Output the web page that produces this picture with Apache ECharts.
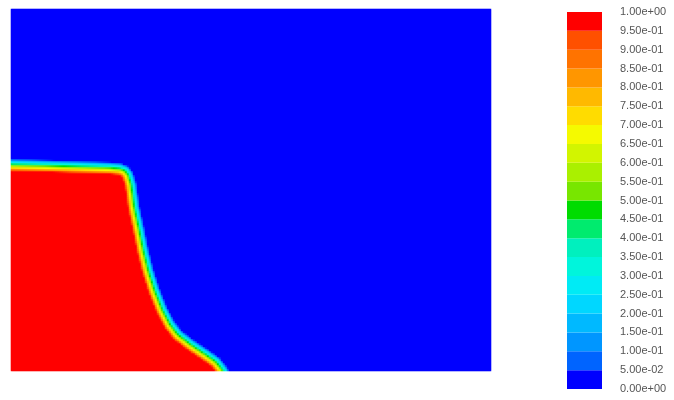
<!DOCTYPE html>
<html>
<head>
<meta charset="utf-8">
<script src="https://cdn.jsdelivr.net/npm/echarts@6/dist/echarts.min.js"></script>
<style>
  html, body { margin: 0; padding: 0; background: #fff; }
  #chart { width: 674px; height: 400px; }
</style>
</head>
<body>
<div id="chart"></div>
<script>
// 0.5 contour of the volume fraction (domain 4.8 x 3.6)
const interfaceX = [0, 0.39, 0.99, 1.09, 1.14, 1.17, 1.20, 1.23, 1.28, 1.32, 1.37, 1.43, 1.51, 1.59, 1.67, 1.80, 1.95, 2.05, 2.12];
const interfaceY = [2.05, 2.04, 2.02, 2.01, 1.99, 1.95, 1.85, 1.63, 1.40, 1.20, 1.00, 0.81, 0.61, 0.46, 0.36, 0.26, 0.16, 0.09, 0];
const domainW = 4.8;
const domainH = 3.6;
const bandHalf = 0.06; // half thickness of the smeared interface
const nx = 240;
const ny = 181;

// colour bar levels, bottom to top
const levels = [0.00, 0.05, 0.10, 0.15, 0.20, 0.25, 0.30, 0.35, 0.40, 0.45, 0.50,
  0.55, 0.60, 0.65, 0.70, 0.75, 0.80, 0.85, 0.90, 0.95, 1.00];
const bandColors = ['#0000ff', '#0064ff', '#0096ff', '#00b9ff', '#00d7ff', '#00ebf5', '#00f5dc',
  '#00f0be', '#00eb6e', '#00dc00', '#78e600', '#aaf000', '#d2f500', '#f5fa00', '#ffdc00',
  '#ffb900', '#ff9600', '#ff7300', '#ff5000', '#ff0000'];

function segDist(px, py, ax, ay, bx, by) {
  const dx = bx - ax, dy = by - ay;
  let t = ((px - ax) * dx + (py - ay) * dy) / (dx * dx + dy * dy);
  t = Math.max(0, Math.min(1, t));
  const qx = ax + t * dx - px, qy = ay + t * dy - py;
  return Math.sqrt(qx * qx + qy * qy);
}

// red region = interface closed through the bottom-left corner
const poly = interfaceX.map((x, k) => [x, interfaceY[k]]).concat([[0, 0]]);
function inside(x, y) {
  let c = false;
  for (let a = 0, b = poly.length - 1; a < poly.length; b = a++) {
    const [xa, ya] = poly[a], [xb, yb] = poly[b];
    if ((ya > y) !== (yb > y) && x < (xb - xa) * (y - ya) / (yb - ya) + xa) c = !c;
  }
  return c;
}

const xCats = [], yCats = [];
for (let i = 0; i < nx; i++) xCats.push(String(i));
for (let j = 0; j < ny; j++) yCats.push(String(j));

const field = [];
for (let j = 0; j < ny; j++) {
  const y = (j + 0.5) * domainH / ny;
  for (let i = 0; i < nx; i++) {
    const x = (i + 0.5) * domainW / nx;
    let d = Infinity;
    for (let k = 0; k < interfaceX.length - 1; k++) {
      d = Math.min(d, segDist(x, y, interfaceX[k], interfaceY[k], interfaceX[k + 1], interfaceY[k + 1]));
    }
    if (!inside(x, y)) d = -d;
    const v = Math.max(0, Math.min(1, 0.5 + d / (2 * bandHalf)));
    field.push([i, j, Math.round(v * 1000) / 1000]);
  }
}

const bands = levels.slice(0, -1).map((lo, k) => [0, lo, levels[k + 1]]);

function fmtExp(v) {
  return v.toExponential(2).replace(/e([+-])(\d)$/, (m, s, d) => 'e' + s + '0' + d);
}

const chart = echarts.init(document.getElementById('chart'));
chart.setOption({
  animation: false,
  backgroundColor: '#fff',
  grid: [
    { left: 11, top: 9, width: 480, height: 362 },
    { left: 567, top: 12, width: 35, height: 377 }
  ],
  xAxis: [
    { type: 'category', data: xCats, show: false, gridIndex: 0 },
    { type: 'category', data: ['bar'], show: false, gridIndex: 1 }
  ],
  yAxis: [
    { type: 'category', data: yCats, show: false, gridIndex: 0 },
    {
      type: 'value', gridIndex: 1, min: 0, max: 1, interval: 0.05, position: 'right',
      axisLine: { show: false }, axisTick: { show: false }, splitLine: { show: false },
      axisLabel: {
        margin: 18, fontSize: 11, color: '#555', fontFamily: 'Liberation Sans',
        formatter: fmtExp
      }
    }
  ],
  visualMap: {
    show: false,
    type: 'continuous',
    min: 0,
    max: 1,
    seriesIndex: 0,
    inRange: { color: bandColors }
  },
  series: [
    {
      type: 'heatmap',
      xAxisIndex: 0,
      yAxisIndex: 0,
      data: field,
      progressive: 0,
      emphasis: { disabled: true }
    },
    {
      type: 'custom',
      xAxisIndex: 1,
      yAxisIndex: 1,
      data: bands,
      encode: { x: 0, y: [1, 2] },
      renderItem: (params, api) => {
        const p0 = api.coord([0, api.value(1)]);
        const p1 = api.coord([0, api.value(2)]);
        const w = api.size([1, 0])[0];
        return {
          type: 'rect',
          shape: { x: p0[0] - w / 2, y: p1[1], width: w, height: p0[1] - p1[1] },
          style: { fill: bandColors[params.dataIndex] }
        };
      }
    }
  ]
});
</script>
</body>
</html>
